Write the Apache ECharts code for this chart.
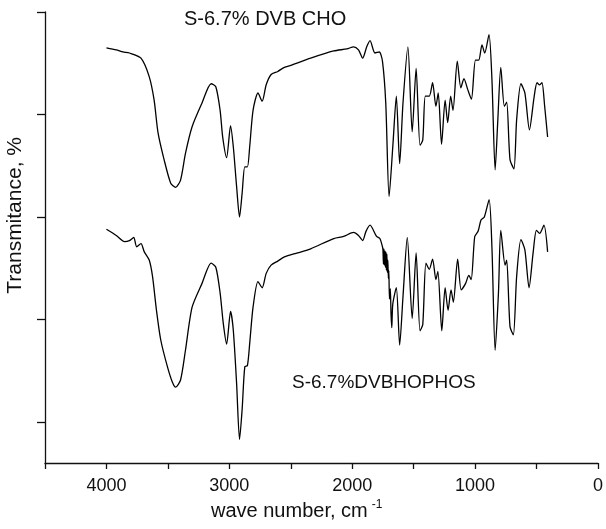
<!DOCTYPE html>
<html>
<head>
<meta charset="utf-8">
<script src="https://cdn.jsdelivr.net/npm/echarts@6/dist/echarts.min.js"></script>
<style>
  html, body { margin: 0; padding: 0; background: #fff; }
  #chart { width: 606px; height: 529px; }
</style>
</head>
<body>
<div id="chart"></div>
<script>
// top spectrum: S-6.7% DVB CHO
var wnCho = [4000, 3920, 3866, 3813, 3719, 3652, 3612, 3580, 3531, 3477, 3437, 3397, 3357, 3303, 3223, 3148,
  3110, 3075, 3054, 3022, 2990, 2968, 2941, 2917, 2896, 2874, 2853, 2834, 2807, 2767, 2733, 2700, 2660,
  2606, 2552, 2499, 2338, 2150, 2043, 1989, 1949, 1915, 1882, 1855, 1815, 1780, 1754, 1727, 1700, 1668,
  1641, 1614, 1587, 1547, 1512, 1480, 1448, 1426, 1405, 1373, 1346, 1319, 1300, 1273, 1244, 1223, 1199,
  1180, 1145, 1116, 1091, 1059, 1030, 997, 971, 944, 922, 887, 863, 837, 815, 791, 762, 743, 716, 684,
  662, 627, 595, 558, 520, 496, 475, 456, 434, 410];
var tCho = [4.05, 4.03, 4.01, 4.00, 3.95, 3.77, 3.54, 3.22, 2.96, 2.73, 2.69, 2.76, 3.02, 3.28, 3.51, 3.70,
  3.67, 3.44, 3.18, 2.98, 3.29, 3.09, 2.70, 2.40, 2.63, 2.89, 2.89, 3.09, 3.44, 3.61, 3.53, 3.69, 3.79,
  3.82, 3.86, 3.88, 3.95, 4.02, 4.04, 4.06, 4.03, 3.95, 4.06, 4.12, 4.00, 4.01, 3.92, 3.51, 2.60, 3.12,
  3.58, 2.92, 3.51, 4.06, 3.23, 3.85, 3.10, 3.15, 3.58, 3.58, 3.71, 3.48, 3.61, 3.11, 3.54, 3.32, 3.58,
  3.44, 3.92, 3.66, 3.75, 3.64, 3.55, 3.93, 3.93, 4.08, 4.00, 4.18, 3.74, 2.86, 3.35, 3.86, 3.48, 3.52, 2.96, 2.87,
  3.35, 3.70, 3.61, 3.25, 3.57, 3.71, 3.69, 3.71, 3.48, 3.18];

// bottom spectrum: S-6.7%DVBHOPHOS
var wnPhos = [4000, 3920, 3853, 3813, 3778, 3754, 3719, 3692, 3652, 3625, 3593, 3558, 3504, 3464, 3437, 3397,
  3357, 3303, 3223, 3148, 3110, 3075, 3049, 3022, 2990, 2968, 2941, 2917, 2896, 2874, 2853, 2834, 2807,
  2767, 2733, 2700, 2660, 2606, 2552, 2445, 2338, 2150, 2070, 1989, 1949, 1915, 1888, 1855, 1802, 1775,
  1754, 1750, 1746, 1742, 1738, 1734, 1730, 1726, 1722, 1718, 1714, 1710, 1706, 1702, 1697, 1690, 1684,
  1678, 1670, 1641, 1614, 1587, 1552, 1512, 1480, 1448, 1426, 1400, 1373, 1346, 1319, 1303, 1271, 1244,
  1220, 1196, 1177, 1142, 1113, 1078, 1051, 1032, 1003, 976, 952, 925, 886, 863, 837, 810, 791, 756, 743,
  716, 689, 662, 627, 595, 561, 528, 501, 475, 440, 410];
var tPhos = [2.28, 2.22, 2.16, 2.17, 2.20, 2.11, 2.14, 2.06, 1.98, 1.82, 1.49, 1.20, 0.94, 0.79, 0.74, 0.81,
  1.10, 1.52, 1.75, 1.95, 1.91, 1.66, 1.36, 1.16, 1.48, 1.30, 0.78, 0.23, 0.52, 0.94, 0.95, 1.17, 1.52,
  1.77, 1.71, 1.85, 1.93, 1.97, 2.01, 2.05, 2.09, 2.19, 2.21, 2.25, 2.22, 2.17, 2.26, 2.32, 2.21, 2.19,
  2.11, 2.08, 1.94, 2.09, 1.93, 2.07, 1.91, 2.06, 1.88, 2.04, 1.86, 1.98, 1.80, 1.88, 1.60, 1.70, 1.45,
  1.32, 1.55, 1.71, 1.15, 1.62, 2.20, 1.41, 2.05, 1.29, 1.35, 1.95, 1.89, 1.99, 1.79, 1.87, 1.29, 1.71,
  1.49, 1.69, 1.57, 1.99, 1.69, 1.75, 1.83, 1.79, 2.21, 2.26, 2.37, 2.40, 2.57, 2.10, 1.10, 1.66, 2.27, 1.93, 1.98,
  1.33, 1.25, 1.82, 2.18, 2.08, 1.71, 2.05, 2.27, 2.24, 2.32, 2.06];

var xTicks = [0, 1000, 2000, 3000, 4000];
var yTicks = [0.4, 1.4, 2.4, 3.4, 4.4];

function pairs(xs, ys) {
  var out = [];
  for (var i = 0; i < xs.length; i++) out.push([xs[i], ys[i]]);
  return out;
}

var font = '"Liberation Sans", Arial, sans-serif';
var chart = echarts.init(document.getElementById('chart'));
var option = {
  animation: false,
  grid: { left: 45, right: 2, top: 12, bottom: 66 },
  xAxis: {
    type: 'value',
    min: 0, max: 4500, interval: 500,
    inverse: true,
    splitLine: { show: false },
    axisLine: { onZero: false, lineStyle: { color: '#111', width: 1.3 } },
    axisTick: { length: 6, lineStyle: { color: '#111', width: 1.3 } },
    axisLabel: {
      color: '#111', fontSize: 18, fontFamily: font, margin: 14,
      formatter: function (v) { return xTicks.indexOf(v) >= 0 ? String(v) : ''; }
    }
  },
  yAxis: {
    type: 'value',
    position: 'left',
    min: 0, max: 4.4,
    splitLine: { show: false },
    axisLine: { show: true, onZero: false, lineStyle: { color: '#111', width: 1.3 } },
    axisTick: { show: true, length: 8, customValues: yTicks, lineStyle: { color: '#111', width: 1.3 } },
    axisLabel: { show: false }
  },
  graphic: [
    { type: 'text', left: 184, top: 9, style: { text: 'S-6.7% DVB CHO', fill: '#111', font: '20px ' + font } },
    { type: 'text', left: 292, top: 373, style: { text: 'S-6.7%DVBHOPHOS', fill: '#111', font: '19px ' + font } },
    { type: 'text', left: 5, top: 137, rotation: Math.PI / 2,
      style: { text: 'Transmitance, %', fill: '#111', font: '21px ' + font } },
    { type: 'text', left: 211, top: 499,
      style: {
        text: '{a|wave number, cm}{b|-1}',
        rich: {
          a: { fontSize: 20, fontFamily: font, fill: '#111', color: '#111', verticalAlign: 'bottom' },
          b: { fontSize: 12, fontFamily: font, fill: '#111', color: '#111', verticalAlign: 'top', padding: [0, 0, 10, 4] }
        }
      } }
  ],
  series: [
    {
      type: 'line', data: pairs(wnCho, tCho), showSymbol: false, smooth: 0.25,
      lineStyle: { color: '#000', width: 1.3 }
    },
    {
      type: 'line', data: pairs(wnPhos, tPhos), showSymbol: false, smooth: 0.25,
      lineStyle: { color: '#000', width: 1.3 }
    }
  ]
};
chart.setOption(option);
</script>
</body>
</html>
